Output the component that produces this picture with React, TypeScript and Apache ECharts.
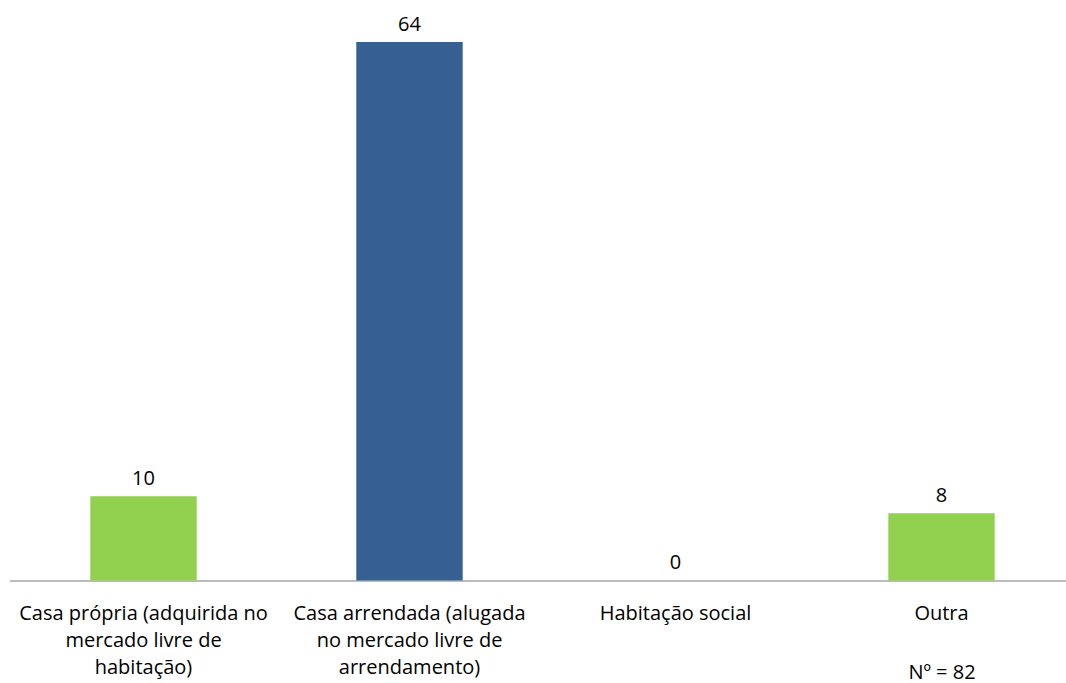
import React, { useEffect, useRef } from "react";
import * as echarts from "echarts";

const categories = [
  "Casa própria (adquirida no\nmercado livre de\nhabitação)",
  "Casa arrendada (alugada\nno mercado livre de\narrendamento)",
  "Habitação social",
  "Outra",
];
const values = [10, 64, 0, 8];
const barColors = ["#92D050", "#366092", "#92D050", "#92D050"];
const noteText = "Nº = 82";

const FONT = "'Open Sans', 'Noto Sans', sans-serif";
const FS = 20;

export default function App() {
  const ref = useRef<HTMLDivElement>(null);
  useEffect(() => {
    if (!ref.current) return;
    const chart = echarts.init(ref.current, null, { renderer: "svg" });
    chart.setOption({
      animation: false,
      backgroundColor: "#ffffff",
      grid: {
        left: 10.5,
        right: -8.5,
        top: 42,
        bottom: 102.5,
        containLabel: false,
        outerBoundsMode: "none",
      },
      xAxis: {
        type: "category",
        data: categories,
        axisLine: { show: true, lineStyle: { color: "#A6A6A6", width: 1.5 } },
        axisTick: { show: false },
        axisLabel: {
          interval: 0,
          color: "#000000",
          fontFamily: FONT,
          fontSize: FS,
          lineHeight: 27,
          margin: 18,
        },
      },
      yAxis: {
        type: "value",
        min: 0,
        max: 64,
        show: false,
        splitLine: { show: false },
      },
      series: [
        {
          type: "bar",
          barWidth: "40%",
          data: values.map((v, i) => ({ value: v, itemStyle: { color: barColors[i] } })),
          label: {
            show: true,
            position: "top",
            distance: 9,
            color: "#000000",
            fontFamily: FONT,
            fontSize: FS,
          },
        },
      ],
      graphic: [
        {
          type: "text",
          x: 942,
          y: 671,
          style: {
            text: noteText,
            fill: "#000000",
            fontFamily: FONT,
            fontSize: FS,
            lineHeight: 22,
            textAlign: "center",
            textVerticalAlign: "middle",
          },
        },
      ],
    });
    return () => chart.dispose();
  }, []);
  return (
    <div
      ref={ref}
      style={{ position: "fixed", left: 0, top: 0, width: 1066, height: 683 }}
    />
  );
}
